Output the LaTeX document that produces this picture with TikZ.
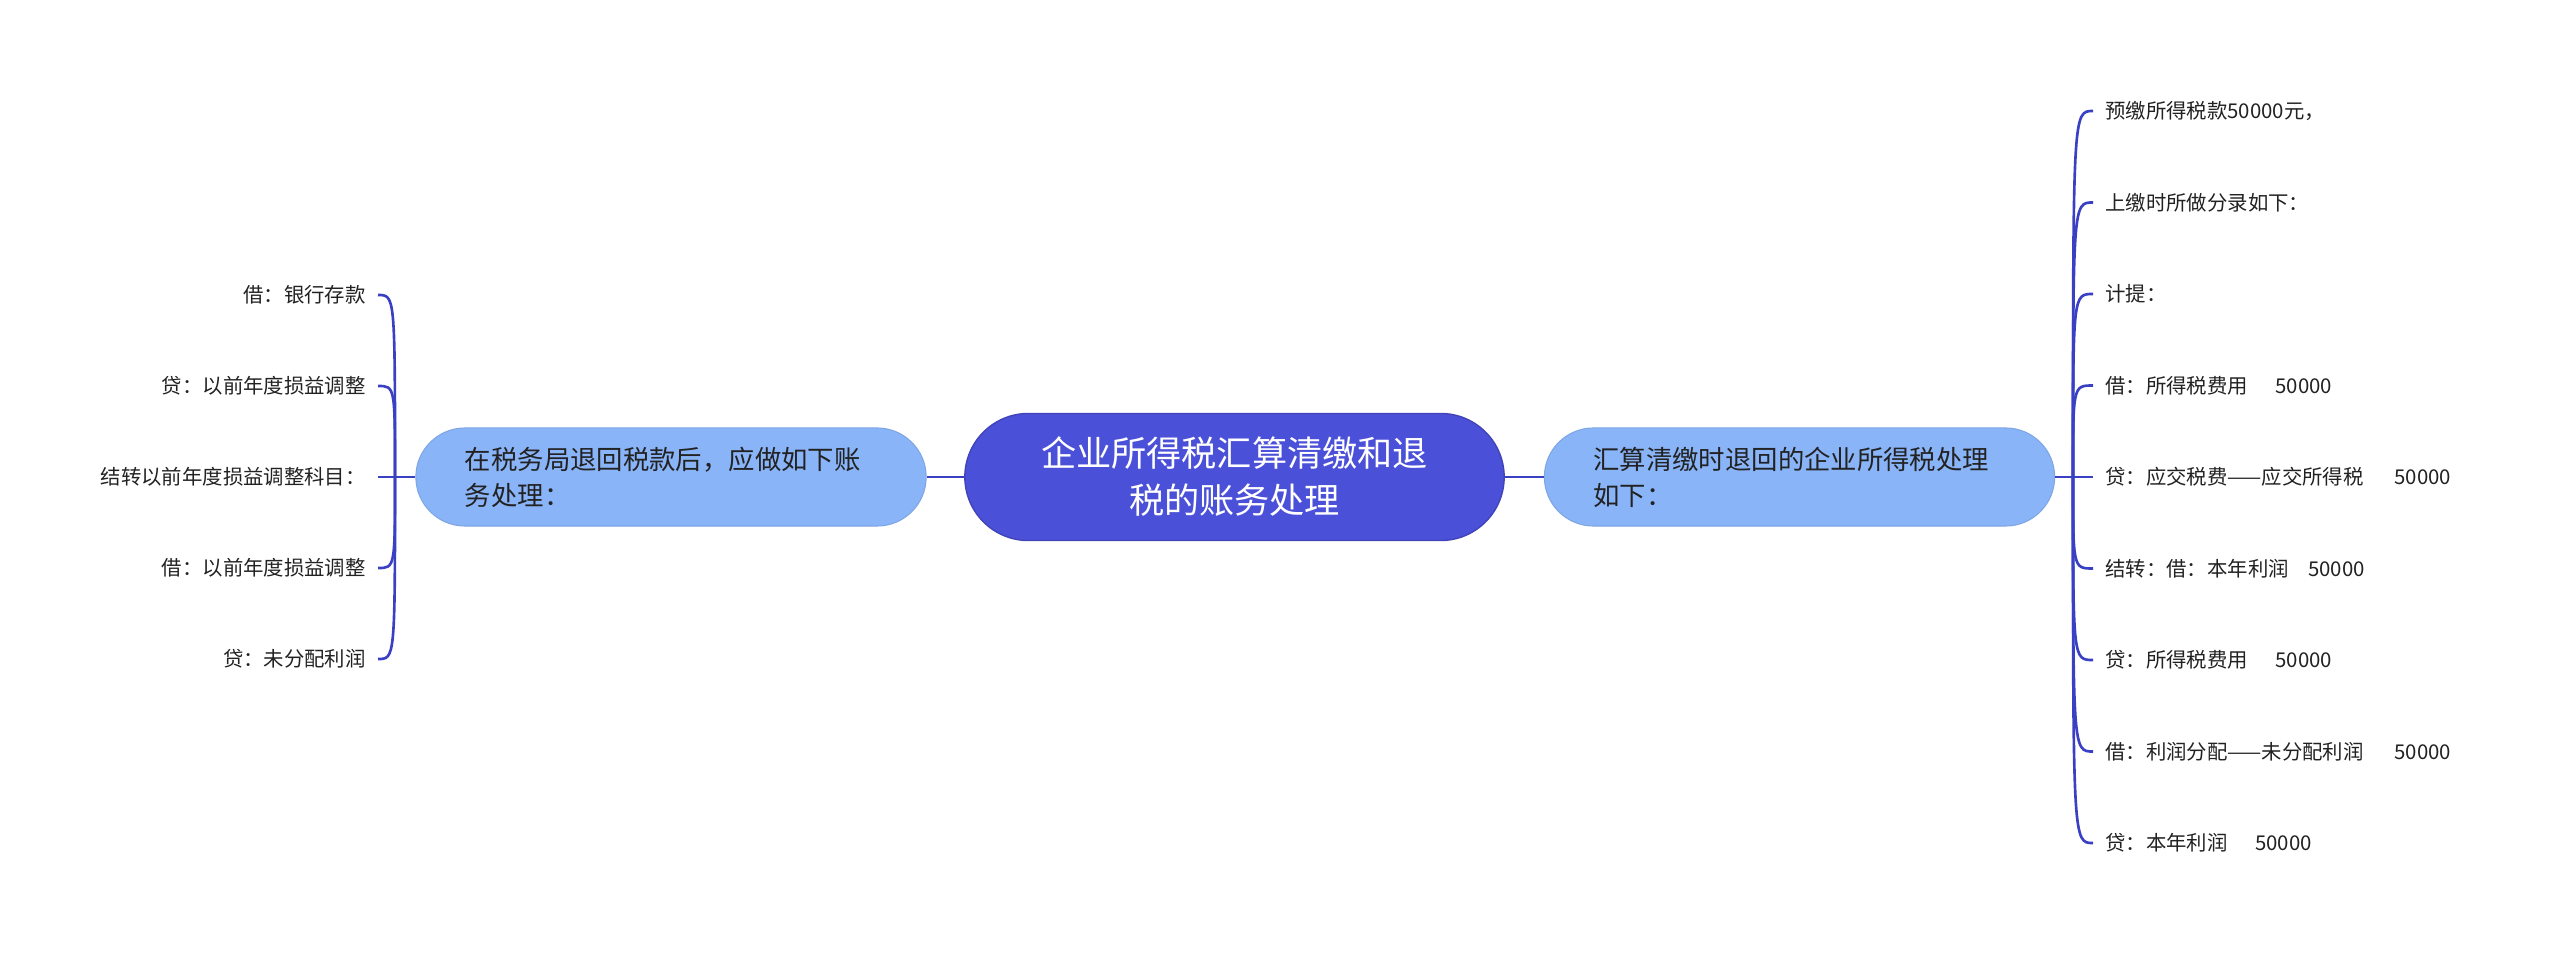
\documentclass[tikz,border=0pt]{standalone}
\usepackage{fontspec}
\setmainfont{Noto Sans CJK SC}
\definecolor{rootblue}{HTML}{4B50D8}
\definecolor{subblue}{HTML}{8AB4F8}
\definecolor{linkblue}{HTML}{3A40C4}
\definecolor{inkgray}{HTML}{222222}
\tikzset{
  rootnode/.style={fill=rootblue, draw=rootblue!85!black, line width=0.4pt, text=white,
    rounded corners=0.635cm, minimum width=5.39cm, minimum height=1.27cm, align=center,
    font=\fontsize{10pt}{13.4pt}\selectfont},
  subnode/.style={fill=subblue, draw=subblue!92!black, line width=0.3pt, text=inkgray,
    rounded corners=0.49cm, minimum height=0.98cm, text width=4.12cm, inner xsep=0.49cm,
    align=left, font=\fontsize{7.5pt}{10.2pt}\selectfont},
  leafnode/.style={text=inkgray, inner xsep=0.115cm, inner ysep=0pt,
    text height=5.1pt, text depth=0.7pt, font=\fontsize{5.8pt}{6.5pt}\selectfont},
  branch/.style={draw=linkblue, line width=0.75pt}
}
\begin{document}
\begin{tikzpicture}[x=0.01cm, y=-0.01cm]
  \useasboundingbox (0,0) rectangle (2560,955);

  \node[rootnode] (root) at (1234.5,477) {企业所得税汇算清缴和退\\税的账务处理};
  \node[subnode] (lsub) at (671,477) {在税务局退回税款后，应做如下账\\务处理：};
  \node[subnode] (rsub) at (1799.5,477) {汇算清缴时退回的企业所得税处理\\如下：};
  \draw[branch] (lsub.east) -- (root.west);
  \draw[branch] (root.east) -- (rsub.west);

  \coordinate (jl) at (395,477);
  \coordinate (jr) at (2073,477);
  \draw[branch] (lsub.west) -- (jl);
  \draw[branch] (rsub.east) -- (jr);

  % left leaves
  \foreach \t [count=\i] in {借：银行存款, 贷：以前年度损益调整, 结转以前年度损益调整科目：,
      借：以前年度损益调整, 贷：未分配利润}{
    \pgfmathsetmacro\y{477+91*(\i-3)}
    \node[leafnode, anchor=east] (l\i) at (378,\y) {\t};
    \draw[branch] (jl) .. controls (jl |- l\i.east) .. (l\i.east);
  }

  % right leaves
  \foreach \t [count=\i] in {预缴所得税款50000元，, 上缴时所做分录如下：, 计提：,
      {借：所得税费用\hspace{1.35em}50000},
      {贷：应交税费——应交所得税\hspace{1.5em}50000},
      {结转：借：本年利润\hspace{0.95em}50000},
      {贷：所得税费用\hspace{1.35em}50000},
      {借：利润分配——未分配利润\hspace{1.5em}50000},
      {贷：本年利润\hspace{1.35em}50000}}{
    \pgfmathsetmacro\y{477+91.5*(\i-5)}
    \node[leafnode, anchor=west] (r\i) at (2093,\y) {\t};
    \draw[branch] (jr) .. controls (jr |- r\i.west) .. (r\i.west);
  }
\end{tikzpicture}
\end{document}
